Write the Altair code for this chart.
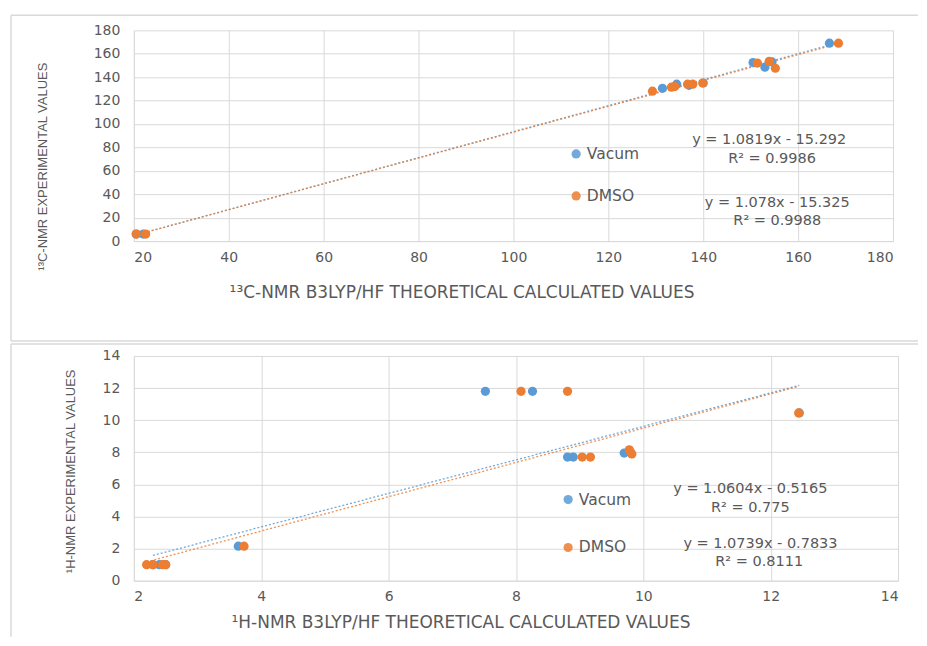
import altair as alt
import pandas as pd

# ---------------- data ----------------
series_names = ["Vacum", "DMSO"]
series_colors = ["#5B9BD5", "#ED7D31"]

# 13C-NMR panel
c_vac_x = [20.5, 22.0, 131.4, 134.4, 137.0, 140.0, 150.5, 153.0, 154.5, 166.6]
c_vac_y = [6, 6, 130.5, 134, 133, 135, 152.5, 148.5, 153, 169]
c_dmso_x = [20.5, 22.5, 129.3, 133.3, 134.0, 136.7, 137.8, 139.9, 151.4, 153.9, 155.2, 168.5]
c_dmso_y = [6, 6, 128, 131.4, 132, 134, 134, 135, 152, 153.6, 147.6, 169]

# 1H-NMR panel
h_vac_x = [2.3, 2.4, 2.5, 3.64, 7.52, 8.26, 8.81, 8.9, 9.7, 9.8, 12.45]
h_vac_y = [1, 1, 1, 2.15, 11.8, 11.8, 7.7, 7.7, 7.95, 8.0, 10.45]
h_dmso_x = [2.2, 2.3, 2.45, 2.5, 3.73, 8.08, 8.81, 9.04, 9.17, 9.78, 9.82, 12.44]
h_dmso_y = [1, 1, 1, 1, 2.15, 11.8, 11.8, 7.7, 7.7, 8.15, 7.9, 10.45]

# trendline equation labels (text, x, y in data units)
c_eq_text = ["y = 1.0819x - 15.292", "R² = 0.9986", "y = 1.078x - 15.325", "R² = 0.9988"]
c_eq_x = [153.9, 154.5, 155.6, 155.6]
c_eq_y = [86.3, 70.0, 32.6, 16.8]

h_eq_text = ["y = 1.0604x - 0.5165", "R² = 0.775", "y = 1.0739x - 0.7833", "R² = 0.8111"]
h_eq_x = [11.68, 11.68, 11.84, 11.82]
h_eq_y = [5.7, 4.55, 2.3, 1.15]

c_x_ticks = [20, 40, 60, 80, 100, 120, 140, 160, 180]
c_y_ticks = [0, 20, 40, 60, 80, 100, 120, 140, 160, 180]
h_x_ticks = [2, 4, 6, 8, 10, 12, 14]
h_y_ticks = [0, 2, 4, 6, 8, 10, 12, 14]

FONT = "DejaVu Sans"
YFONT = "Liberation Sans"
GRID = "#D9D9D9"
TXT = "#595959"


def make_df(vx, vy, dx, dy):
    rows = [{"x": a, "y": b, "series": "Vacum", "ord": 0} for a, b in zip(vx, vy)]
    rows += [{"x": a, "y": b, "series": "DMSO", "ord": 1} for a, b in zip(dx, dy)]
    return pd.DataFrame(rows)


def rule(x1, x2, y1, y2):
    return alt.Chart(pd.DataFrame({"k": [0]})).mark_rule(
        color=GRID, strokeWidth=1.5, clip=False
    ).encode(x=alt.value(x1), x2=alt.value(x2), y=alt.value(y1), y2=alt.value(y2))


def panel(df, eq_text, eq_x, eq_y, xdom, ydom, xticks, yticks, xtitle, ytitle,
          width, height, legx, legy, rowpad, xtitle_pos, ytitle_pos, frame_rules):
    color = alt.Color(
        "series:N",
        scale=alt.Scale(domain=series_names, range=series_colors),
        sort=series_names,
        legend=alt.Legend(
            title=None, orient="none", legendX=legx, legendY=legy,
            direction="vertical", rowPadding=rowpad, symbolType="circle",
            symbolSize=85, symbolStrokeWidth=0, labelFont=FONT, labelFontSize=15.5,
            labelColor=TXT, labelOffset=3,
        ),
    )
    xaxis = alt.Axis(values=xticks, title=xtitle, format="d", labelOverlap=False,
                     labelPadding=9, titleFont=FONT, titleFontSize=17,
                     titleX=xtitle_pos[0], titleY=xtitle_pos[1],
                     titleAlign="center", titleBaseline="middle")
    yaxis = alt.Axis(values=yticks, title=ytitle, format="d", labelOverlap=False,
                     labelPadding=14, titleFont=YFONT, titleFontSize=13,
                     titleX=ytitle_pos[0], titleY=ytitle_pos[1],
                     titleAlign="center", titleBaseline="middle", titleAngle=270)
    xenc = alt.X("x:Q", scale=alt.Scale(domain=xdom, nice=False, zero=False), axis=xaxis)
    yenc = alt.Y("y:Q", scale=alt.Scale(domain=ydom, nice=False, zero=False), axis=yaxis)
    base = alt.Chart(df)
    lines = base.transform_regression(
        "x", "y", groupby=["series"]
    ).mark_line(strokeDash=[2, 2], strokeWidth=1.3, opacity=0.85).encode(
        x=xenc, y=yenc, color=color, detail="series:N"
    )
    pts = base.mark_circle(size=85, opacity=1).encode(
        x=xenc, y=yenc, color=color, order=alt.Order("ord:Q")
    )
    eq_df = pd.DataFrame({"label": eq_text, "x": eq_x, "y": eq_y})
    eqs = alt.Chart(eq_df).mark_text(
        font=FONT, fontSize=14.5, color=TXT, align="center", baseline="middle"
    ).encode(x=xenc, y=yenc, text="label:N")
    frs = [rule(*r) for r in frame_rules]
    return alt.layer(*frs, lines, pts, eqs).properties(width=width, height=height)


c_df = make_df(c_vac_x, c_vac_y, c_dmso_x, c_dmso_y)
h_df = make_df(h_vac_x, h_vac_y, h_dmso_x, h_dmso_y)

# plot areas: top 133..893 x 29..240, bottom 133..898 x 355..580 (page px)
top_frame = [(-123, 785, -15, -15), (-123, -123, -15, 311), (-123, 785, 311, 311)]
bot_frame = [(-123, 785, -12, -12), (-123, -123, -12, 281)]

top = panel(c_df, c_eq_text, c_eq_x, c_eq_y, [20, 180], [0, 180], c_x_ticks, c_y_ticks,
            "¹³C-NMR B3LYP/HF THEORETICAL CALCULATED VALUES", "¹³C-NMR EXPERIMENTAL VALUES",
            760, 211, 435, 116, 25, (328, 51), (-91, 136), top_frame)
bottom = panel(h_df, h_eq_text, h_eq_x, h_eq_y, [2, 14], [0, 14], h_x_ticks, h_y_ticks,
               "¹H-NMR B3LYP/HF THEORETICAL CALCULATED VALUES", "¹H-NMR EXPERIMENTAL VALUES",
               765, 225, 427, 136, 31, (327, 42), (-63, 115), bot_frame)

chart = alt.vconcat(top, bottom, spacing=115, bounds="flush").resolve_scale(
    color="independent"
).resolve_legend(color="independent").properties(
    padding={"left": 2, "top": 6, "right": 0, "bottom": 0}
).configure_view(stroke=None).configure_axis(
    grid=True, gridColor=GRID, domainColor=GRID, ticks=False, labelOverlap=False,
    labelFont=FONT, labelFontSize=14, labelColor=TXT,
    titleFontWeight="normal", titleColor=TXT,
).configure_legend(padding=0)

chart.save("out.html", embed_options={"renderer": "svg", "actions": False})
